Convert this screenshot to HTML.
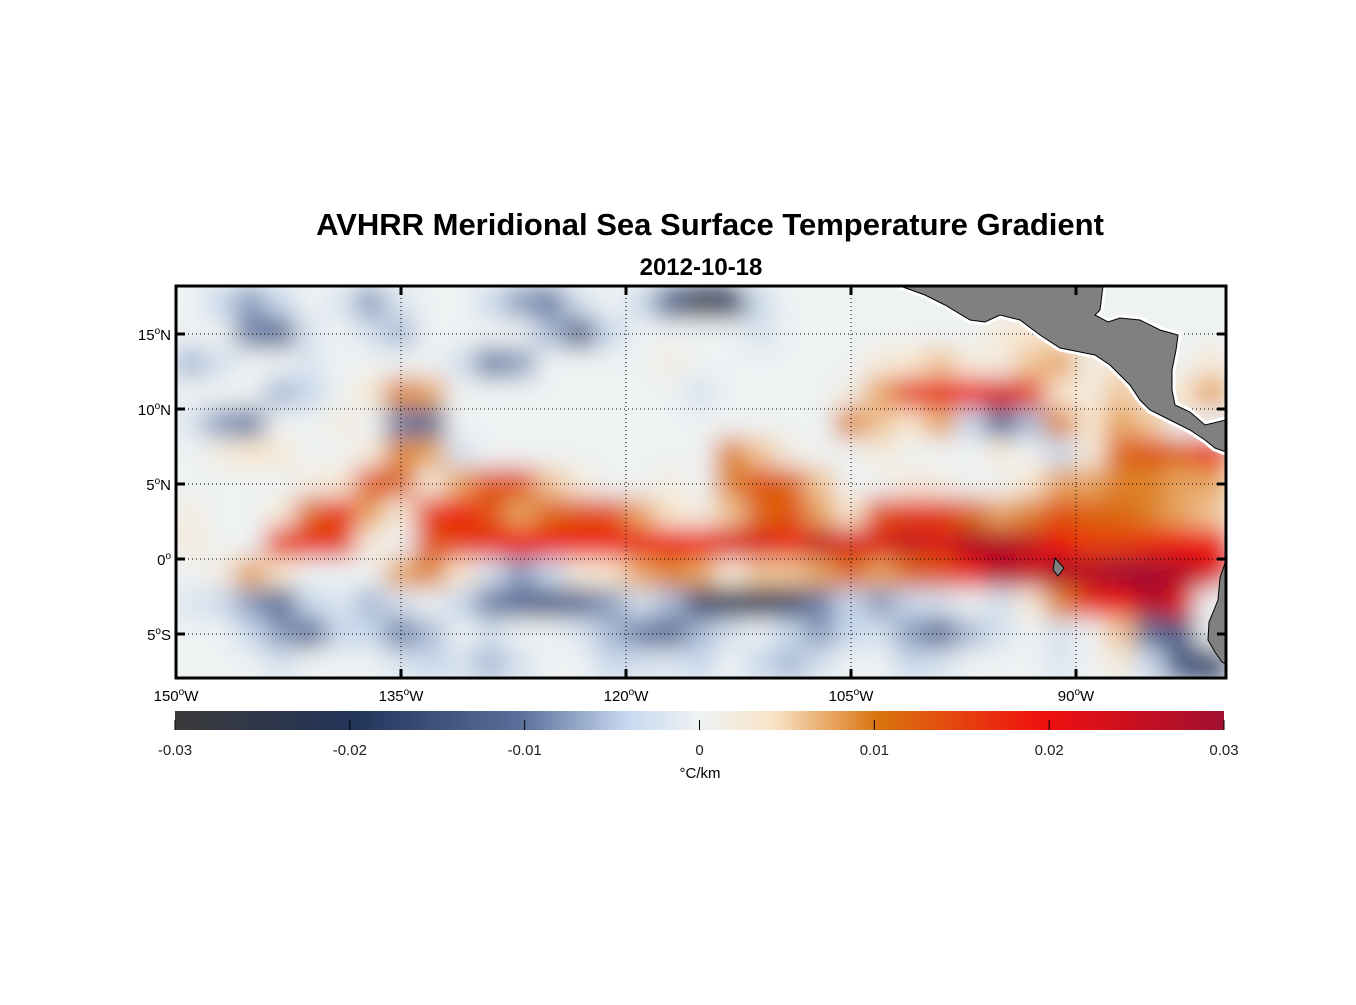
<!DOCTYPE html>
<html><head><meta charset="utf-8"><style>
body{margin:0;background:#fff;width:1356px;height:1000px;overflow:hidden;font-family:"Liberation Sans",sans-serif}
svg text{font-family:"Liberation Sans",sans-serif}
</style></head><body>
<svg id="chart" width="1356" height="1000" viewBox="0 0 1356 1000">
<defs>
<clipPath id="plotclip"><rect x="176" y="286" width="1050" height="392"/></clipPath>
<filter id="blur" x="-5%" y="-5%" width="110%" height="110%"><feGaussianBlur stdDeviation="12" edgeMode="duplicate"/></filter>
<linearGradient id="cmap" x1="0" x2="1" y1="0" y2="0">
<stop offset="0" stop-color="#3a3a3a"/><stop offset="0.17" stop-color="#23345a"/><stop offset="0.33" stop-color="#5a6f9a"/>
<stop offset="0.43" stop-color="#c6d8f0"/><stop offset="0.5" stop-color="#eef2f3"/><stop offset="0.57" stop-color="#f9e4c8"/>
<stop offset="0.67" stop-color="#d9730d"/><stop offset="0.83" stop-color="#f01010"/><stop offset="1" stop-color="#a01030"/>
</linearGradient>
</defs>
<text x="710" y="235" text-anchor="middle" font-size="31" font-weight="bold">AVHRR Meridional Sea Surface Temperature Gradient</text>
<text x="701" y="275" text-anchor="middle" font-size="24" font-weight="bold">2012-10-18</text>
<rect x="176" y="286" width="1050" height="392" fill="#eef2f3"/>
<g id="cells" clip-path="url(#plotclip)"><g id="cellsInner" filter="url(#blur)"></g></g>
<g id="grid"></g>
<g clip-path="url(#plotclip)">
<polygon id="landpoly" points="900,286 1103,286 1100,310 1095,315 1108,322 1120,318 1140,320 1160,330 1178,335 1176,350 1172,370 1172,390 1175,405 1190,412 1205,425 1226,420 1226,452 1215,448 1205,440 1190,430 1170,420 1150,410 1140,400 1130,385 1110,365 1095,355 1080,352 1060,348 1040,335 1020,320 1000,315 985,322 970,320 945,305 925,295" fill="#808080" stroke="#fff" stroke-width="7"/>
<polygon points="900,286 1103,286 1100,310 1095,315 1108,322 1120,318 1140,320 1160,330 1178,335 1176,350 1172,370 1172,390 1175,405 1190,412 1205,425 1226,420 1226,452 1215,448 1205,440 1190,430 1170,420 1150,410 1140,400 1130,385 1110,365 1095,355 1080,352 1060,348 1040,335 1020,320 1000,315 985,322 970,320 945,305 925,295" fill="#808080" stroke="#000" stroke-width="1"/>
<polygon points="1226,560 1220,578 1218,600 1214,610 1209,622 1208,640 1215,652 1222,662 1226,664" fill="#808080" stroke="#000" stroke-width="1"/>
<polygon points="1055,558 1064,568 1058,576 1053,570" fill="#808080" stroke="#000" stroke-width="1"/>
</g>
<rect x="176" y="286" width="1050" height="392" fill="none" stroke="#000" stroke-width="3"/>
<g id="axes"></g>
<rect x="175" y="711" width="1049" height="19" fill="url(#cmap)"/>
<g id="cbticks"></g>
<text x="700" y="778" text-anchor="middle" font-size="15">°C/km</text>
</svg>
<script>
const lonTicks=[150,135,120,105,90];
const latTicks=[15,10,5,0,-5];
const cbTicks=[-0.03,-0.02,-0.01,0,0.01,0.02,0.03];
const rowLats=[17,15,13,11,9,7,5,3,1,-1,-3,-5,-7];
const r0=[0,-6,-10,-6,0,-3,-10,-3,0,0,-5,-10,-12,-4,0,-5,-15,-25,-22,-5,0,0,0,0,0,0,0,0,0,0,0,0,0,0,0];
const r1=[0,0,-12,-14,-3,0,-4,-8,0,0,0,0,-8,-16,-6,0,0,0,0,-4,0,0,0,0,0,0,0,4,6,6,0,0,0,0,0];
const r2=[-8,-4,0,0,-3,0,0,0,0,-4,-12,-10,0,0,0,0,3,0,0,0,0,0,0,4,6,8,4,3,8,10,3,6,0,0,5];
const r3=[0,0,0,-8,-6,0,5,12,10,0,0,0,0,0,0,0,0,-4,0,0,0,0,3,10,18,20,22,24,18,6,3,8,4,6,10];
const r4=[-3,-10,-12,0,0,3,0,-12,-14,0,0,0,0,0,0,0,0,0,0,0,0,0,12,8,6,10,-6,-14,-8,12,6,10,8,0,0];
const r5=[0,3,6,5,0,0,4,12,10,-4,0,0,0,0,0,0,0,0,12,8,3,0,0,4,0,0,0,4,0,-6,4,14,16,14,20];
const r6=[0,0,0,0,3,5,16,14,4,10,16,16,8,4,0,0,3,0,12,16,14,8,0,0,4,3,0,0,6,10,10,12,12,10,10];
const r7=[3,0,0,4,14,20,10,4,18,22,16,10,14,16,16,10,6,3,8,14,16,10,6,16,18,18,14,10,12,16,14,14,12,10,8];
const r8=[4,0,0,18,20,18,4,0,16,18,20,22,22,22,22,20,22,22,24,24,20,26,24,24,26,24,28,28,26,22,18,18,20,22,22];
const r9=[0,3,10,6,0,0,0,10,12,6,-4,-10,-6,4,6,10,12,10,4,8,8,10,14,10,14,16,22,28,26,28,28,30,30,28,24];
const r10=[-3,-5,-10,-14,-6,-3,-8,-4,0,-6,-12,-14,-16,-14,-10,-4,-8,-18,-24,-22,-20,-12,-6,-10,-6,-4,0,-4,4,12,20,22,28,24,0];
const r11=[0,0,-6,-10,-14,-6,-6,-12,-8,0,-4,0,0,-3,-8,-12,-14,-8,-4,0,-6,-10,-6,-4,-10,-14,-8,-4,0,-4,0,8,-14,-16,0];
const r12=[0,0,0,-4,0,0,0,-3,-6,-4,-8,-4,0,0,-6,-4,-3,-6,0,-6,-8,-4,0,0,-6,-4,0,0,0,-3,0,4,-6,-16,-20];
const rows=[r0,r1,r2,r3,r4,r5,r6,r7,r8,r9,r10,r11,r12];
const NS="http://www.w3.org/2000/svg";
const X0=176,PX=15,lonMin=-150,latZeroY=559;
const xScale=lon=>X0+(lon-lonMin)*PX;
const yScale=lat=>latZeroY-lat*PX;
const cbX=v=>175+(v+0.03)/0.06*1049;
const stops=[[-30,[58,58,58]],[-22,[35,52,90]],[-13,[90,111,154]],[-6,[200,216,236]],[0,[238,242,243]],[6,[248,230,206]],[13,[217,115,13]],[22,[236,20,16]],[30,[160,16,48]]];
function color(v){v=Math.max(-30,Math.min(30,v));for(let i=0;i<stops.length-1;i++){const[a,ca]=stops[i],[b,cb]=stops[i+1];if(v<=b){const t=(v-a)/(b-a);return 'rgb('+ca.map((c,k)=>Math.round(c+(cb[k]-c)*t)).join(',')+')';}}}
function mk(tag,attrs,parent){const e=document.createElementNS(NS,tag);for(const k in attrs)e.setAttribute(k,attrs[k]);parent.appendChild(e);return e;}
const cg=document.getElementById('cellsInner');
rows.forEach((row,ri)=>{const lat=rowLats[ri];row.forEach((v,ci)=>{const lon=lonMin+ci*2;
const r=mk('rect',{x:xScale(lon)-1,y:yScale(lat+1)-1,width:2*PX+2,height:2*PX+2,fill:color(v)},cg);

});});
const grid=document.getElementById('grid'),axes=document.getElementById('axes');
lonTicks.forEach(l=>{const x=xScale(-l);
if(l!==150){const g=mk('line',{x1:x,x2:x,y1:286,y2:678,stroke:'#000','stroke-width':1,'stroke-dasharray':'1,3'},grid);


mk('line',{x1:x,x2:x,y1:286,y2:295,stroke:'#000','stroke-width':3},axes);
mk('line',{x1:x,x2:x,y1:669,y2:678,stroke:'#000','stroke-width':3},axes);}
const t=mk('text',{x:x,y:701,'text-anchor':'middle','font-size':15},axes);


t.innerHTML=l+'<tspan dy="-6" font-size="10">o</tspan><tspan dy="6">W</tspan>';});
latTicks.forEach(l=>{const y=yScale(l);
const g=mk('line',{x1:176,x2:1226,y1:y,y2:y,stroke:'#000','stroke-width':1,'stroke-dasharray':'1,3'},grid);


mk('line',{x1:176,x2:185,y1:y,y2:y,stroke:'#000','stroke-width':3},axes);
mk('line',{x1:1217,x2:1226,y1:y,y2:y,stroke:'#000','stroke-width':3},axes);
const t=mk('text',{x:171,y:y+6,'text-anchor':'end','font-size':15},axes);


const h=l>0?'N':(l<0?'S':'');
t.innerHTML=Math.abs(l)+'<tspan dy="-6" font-size="10">o</tspan><tspan dy="6">'+h+'</tspan>';});
const cbt=document.getElementById('cbticks');
cbTicks.forEach(v=>{const x=cbX(v);
mk('line',{x1:x,x2:x,y1:720,y2:730,stroke:'#000','stroke-width':1},cbt);
const t=mk('text',{x:x,y:755,'text-anchor':'middle','font-size':15,fill:'#222'},cbt);


t.textContent=String(v);});
</script>
</body></html>
